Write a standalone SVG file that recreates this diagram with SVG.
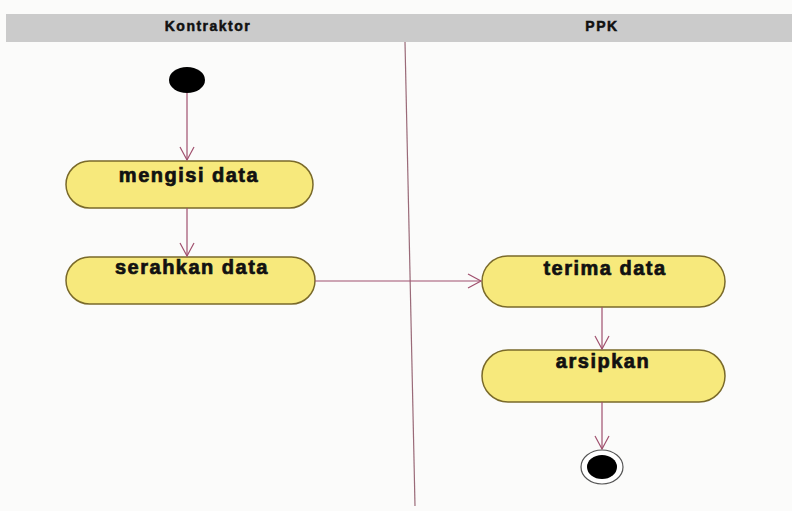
<svg xmlns="http://www.w3.org/2000/svg" width="792" height="511" viewBox="0 0 792 511">
<defs>
<marker id="arr" markerWidth="16" markerHeight="16" refX="14" refY="8" orient="auto" markerUnits="userSpaceOnUse">
<path d="M1,1 L14,8 L1,15" fill="none" stroke="#a0506e" stroke-width="1.2"/>
</marker>
</defs>
<style>
.act{fill:#f7e97c;stroke:#7a6a2a;stroke-width:1.5}
.lbl{font-family:"Liberation Sans",Arial,sans-serif;font-weight:bold;font-size:20px;letter-spacing:1.5px;fill:#111;stroke:#111;stroke-width:0.7;text-anchor:middle}
.hdr{font-family:"Liberation Sans",Arial,sans-serif;font-weight:bold;font-size:14px;letter-spacing:1.5px;fill:#111;stroke:#111;stroke-width:0.5;text-anchor:middle}
.con{stroke:#a0506e;stroke-width:1.2;fill:none;marker-end:url(#arr)}
</style>
<rect width="792" height="511" fill="#fbfbfa"/>
<g id="lanes">
<rect x="6" y="14" width="786" height="28" fill="#cbcbcb"/>
<text class="hdr" x="208" y="31">Kontraktor</text>
<text class="hdr" x="602" y="31">PPK</text>
<line x1="405" y1="42" x2="415" y2="506" stroke="#9a6a78" stroke-width="1.2"/>
</g>
<g id="start"><ellipse cx="187" cy="80" rx="18" ry="13" fill="#000"/></g>
<g id="mengisi"><rect class="act" x="66" y="161" width="247" height="47" rx="23.5"/><text class="lbl" x="189" y="182">mengisi data</text></g>
<g id="serahkan"><rect class="act" x="66" y="257" width="249" height="47" rx="23.5"/><text class="lbl" x="192" y="274">serahkan data</text></g>
<g id="terima"><rect class="act" x="482" y="256" width="243" height="51" rx="25.5"/><text class="lbl" x="605" y="275">terima data</text></g>
<g id="arsipkan"><rect class="act" x="482" y="350" width="243" height="52" rx="26"/><text class="lbl" x="603" y="368">arsipkan</text></g>
<g id="end"><ellipse cx="602" cy="467" rx="21" ry="17" fill="#fff" stroke="#555" stroke-width="1.2"/><ellipse cx="602" cy="467" rx="15" ry="12" fill="#000"/></g>
<g id="connectors">
<line class="con" x1="187" y1="93" x2="187" y2="160"/>
<line class="con" x1="187" y1="208" x2="187" y2="256"/>
<line class="con" x1="315" y1="281" x2="481" y2="281"/>
<line class="con" x1="602" y1="307" x2="602" y2="349"/>
<line class="con" x1="602" y1="402" x2="602" y2="449"/>
</g>
</svg>
